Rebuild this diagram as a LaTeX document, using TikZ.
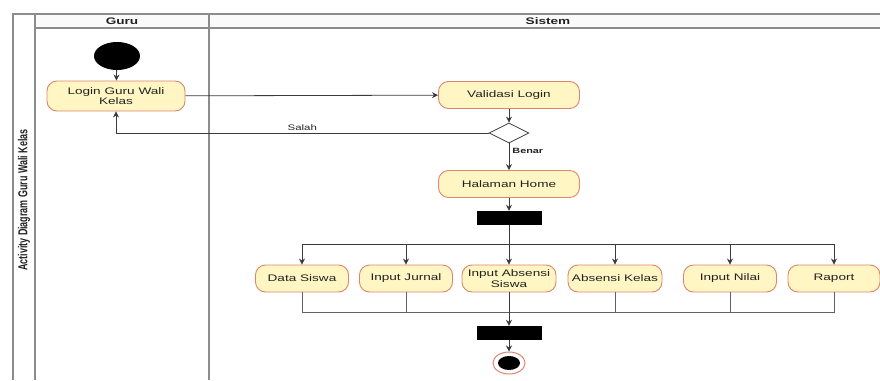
\documentclass[tikz,border=0pt]{standalone}
\usepackage{fontspec}
\setmainfont{Liberation Sans}
% widened face for the horizontal labels, narrowed face for the rotated pool title
\newfontfamily\boxfont{Liberation Sans}[FakeStretch=1.43]
\newfontfamily\titlefont{Liberation Sans}[FakeStretch=0.69]
\usetikzlibrary{shapes.geometric,arrows.meta}

\definecolor{actfill}{HTML}{FFF6C4}
\definecolor{actline}{HTML}{E0836A}
\definecolor{lanegray}{HTML}{8C8C8C}
\definecolor{edgegray}{HTML}{3A3A3A}
\definecolor{txt}{HTML}{222222}

\tikzset{
  action/.style={draw=actline, line width=0.9pt, fill=actfill, rounded corners=10pt,
    minimum height=27pt, align=center, inner sep=1pt, text=txt,
    font=\boxfont\fontsize{9.5}{10.5}\selectfont},
  syncbar/.style={fill=black, draw=none, minimum width=65pt, minimum height=14pt, inner sep=0pt},
  decision/.style={diamond, draw=edgegray, line width=0.8pt, fill=white,
    minimum width=40pt, minimum height=20pt, inner sep=0pt},
  startnode/.style={ellipse, fill=black, draw=none, minimum width=46pt, minimum height=28pt, inner sep=0pt},
  endring/.style={ellipse, draw=actline, line width=1pt, fill=white, minimum width=32pt, minimum height=22pt, inner sep=0pt},
  enddot/.style={ellipse, fill=black, draw=none, minimum width=22pt, minimum height=14pt, inner sep=0pt},
  flow/.style={draw=edgegray, line width=0.8pt, -{Stealth[length=6pt,width=6pt]}},
  plain/.style={draw=edgegray!80, line width=0.8pt},
  lane/.style={draw=lanegray, line width=1.2pt},
  headfont/.style={font=\boxfont\bfseries\fontsize{9.5}{10}\selectfont, text=txt},
  edgelabel/.style={font=\boxfont\fontsize{8}{9}\selectfont, text=txt, inner sep=2pt},
  edgelabelbold/.style={font=\boxfont\bfseries\fontsize{7.6}{9}\selectfont, text=txt, inner sep=3pt},
}

\begin{document}
\begin{tikzpicture}[x=1pt,y=-1pt]
\useasboundingbox (0,0) rectangle (880,380);

% swimlane pool and lanes
\fill[black!2] (35,14) rectangle (880,28);
\draw[lane] (880,14) -- (13,14) -- (13,380);
\draw[lane] (35,14) -- (35,380);
\draw[lane] (209,14) -- (209,380);
\draw[lane] (35,28) -- (880,28);
\node[headfont] (guruhead) at (122,21) {Guru};
\node[headfont] (sistemhead) at (548,21) {Sistem};
\node[rotate=90, text=txt, font=\titlefont\bfseries\fontsize{13}{13}\selectfont] (pooltitle) at (24,200) {Activity Diagram Guru Wali Kelas};

% activities
\node[startnode] (start) at (117,56) {};
\node[action, minimum width=138pt, minimum height=30pt] (login) at (116,96) {Login Guru Wali\\Kelas};
\node[action, minimum width=141pt] (valid) at (509,95) {Validasi Login};
\node[decision] (dec) at (509,133) {};
\node[action, minimum width=141pt] (home) at (509,184) {Halaman Home};
\node[syncbar] (fork) at (509,218) {};

\node[action, minimum width=93pt] (siswa)   at (302,278.5) {Data Siswa};
\node[action, minimum width=93pt] (jurnal)  at (406,278.5) {Input Jurnal};
\node[action, minimum width=94pt] (absensi) at (509,278.5) {Input Absensi\\Siswa};
\node[action, minimum width=94pt] (kelas)   at (615,278.5) {Absensi Kelas};
\node[action, minimum width=93pt] (nilai)   at (730,278.5) {Input Nilai};
\node[action, minimum width=92pt] (raport)  at (834,278.5) {Raport};

\node[syncbar] (join) at (509,333) {};
\node[endring] (stop) at (509,363) {};
\node[enddot] (stopdot) at (stop.center) {};

\coordinate (forkrow) at (509,244);
\coordinate (joinrow) at (509,312);

% control flow
\draw[flow] (start) -- (login);
\draw[flow] (login) -- (valid);
\draw[flow] (valid) -- (dec);
\draw[flow] (dec.west) -| node[pos=0.25, above, edgelabel] {Salah} (login.south);
\draw[flow] (dec) -- node[pos=0.3, right, edgelabelbold] {Benar} (home);
\draw[flow] (home) -- (fork);

\draw[flow] (fork) -- (absensi);
\foreach \b in {siswa,jurnal,kelas,nilai,raport}
  \draw[flow] (fork.south |- forkrow) -| (\b.north);

\foreach \b in {siswa,jurnal,kelas,nilai,raport}
  \draw[plain] (\b.south) |- (join.north |- joinrow);
\draw[flow] (absensi) -- (join);
\draw[flow] (join) -- (stop);
\end{tikzpicture}
\end{document}
